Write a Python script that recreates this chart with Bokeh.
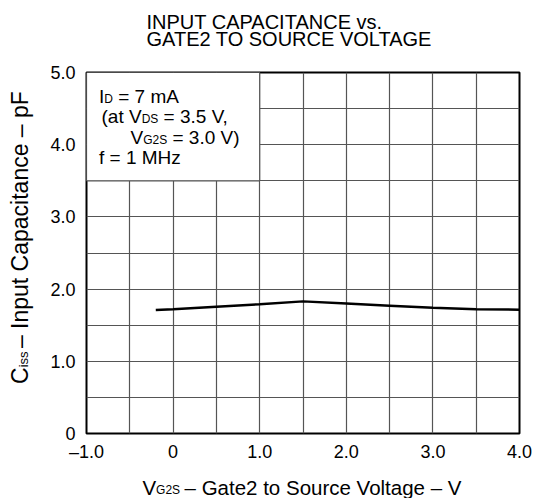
from bokeh.plotting import figure
from bokeh.models import Label, FixedTicker, Range1d
from bokeh.embed import file_html
from bokeh.resources import INLINE
import math

# ---- data ----
vg2s = [-0.2, 0.0, 0.5, 1.0, 1.5, 2.0, 2.5, 3.0, 3.5, 4.0]
ciss = [1.71, 1.72, 1.755, 1.79, 1.83, 1.80, 1.77, 1.74, 1.72, 1.715]

x_ticks = [-1, 0, 1, 2, 3, 4]
x_tick_labels = ["–1.0", "0", "1.0", "2.0", "3.0", "4.0"]
y_ticks = [0, 1, 2, 3, 4, 5]
y_tick_labels = ["0", "1.0", "2.0", "3.0", "4.0", "5.0"]
grid_x = [-0.5, 0.0, 0.5, 1.0, 1.5, 2.0, 2.5, 3.0, 3.5]
grid_y = [0.5, 1.0, 1.5, 2.0, 2.5, 3.0, 3.5, 4.0, 4.5]

box_left, box_right, box_bottom, box_top = [-1.0], [1.0], [3.5], [5.0]

title_lines = ["INPUT CAPACITANCE vs.", "GATE2 TO SOURCE VOLTAGE"]

# ---- layout ----
X0, X1, Y0, Y1 = -1.0, 4.0, 0.0, 5.0
W, H = 541, 498
BL, BR, BT, BB = 86, 22, 72, 65
FONT = "Liberation Sans"
GRID = "#555555"
MID = 0.35          # em-box middle above the baseline
NBSP = "\u00a0"

CW = {' ': 278, NBSP: 278, '(': 333, ')': 333, ',': 278, '.': 278, '=': 584,
      '–': 556, 'a': 556, 'c': 500, 'e': 556, 'f': 278, 'g': 556, 'i': 222,
      'l': 222, 'm': 833, 'n': 556, 'o': 556, 'p': 556, 'r': 333, 's': 500,
      't': 278, 'u': 556, 'z': 500, 'A': 667, 'C': 722, 'D': 722, 'F': 611,
      'G': 778, 'H': 722, 'I': 278, 'M': 833, 'S': 667, 'V': 667}

def tw(text, size):
    return sum(CW.get(ch, 556) for ch in text) * size / 1000.0

p = figure(width=W, height=H, output_backend="svg", toolbar_location=None,
           x_range=Range1d(X0, X1), y_range=Range1d(Y0, Y1))
p.min_border_left = BL
p.min_border_right = BR
p.min_border_top = BT
p.min_border_bottom = BB
p.background_fill_color = "white"
p.border_fill_color = "white"
p.outline_line_color = "black"
p.outline_line_width = 2

p.xgrid.ticker = FixedTicker(ticks=grid_x)
p.ygrid.ticker = FixedTicker(ticks=grid_y)
for g in (p.xgrid, p.ygrid):
    g.grid_line_color = GRID
    g.grid_line_width = 1.2

p.xaxis.ticker = FixedTicker(ticks=x_ticks)
p.yaxis.ticker = FixedTicker(ticks=y_ticks)
p.xaxis.major_label_overrides = dict(zip(x_ticks, x_tick_labels))
p.yaxis.major_label_overrides = dict(zip(y_ticks, y_tick_labels))
for ax in (p.xaxis, p.yaxis):
    ax.axis_line_color = None
    ax.major_tick_line_color = None
    ax.minor_tick_line_color = None
    ax.major_label_text_font = FONT
    ax.major_label_text_font_size = "18px"
    ax.major_label_text_color = "black"
p.xaxis.major_label_standoff = 2
p.yaxis.major_label_standoff = 5

# white conditions box over the grid
p.quad(left=box_left, right=box_right, bottom=box_bottom, top=box_top,
       fill_color="white", line_color=GRID, line_width=1.2)

# data curve
p.line(vg2s, ciss, line_color="black", line_width=2.5)

def put(text, px, base, size, where=None, angle=0.0):
    """text with its baseline at canvas y=base (or canvas x=base if rotated)"""
    if angle == 0.0:
        x, y = px, base - MID * size
    else:
        x, y = base - MID * size, px
    lab = Label(x=x, y=y, x_units="canvas", y_units="canvas",
                text=text, text_font=FONT,
                text_font_size=f"{size}px", text_color="black",
                text_align="left", text_baseline="middle", angle=angle)
    if where is None:
        p.add_layout(lab)
    else:
        p.add_layout(lab, where)

def put_pieces(pieces, px, base):
    cur = px
    for text, size in pieces:
        stripped = text.lstrip(" ")
        cur += tw(text[:len(text) - len(stripped)], size)
        put(stripped, cur, base, size)
        cur += tw(stripped, size)

def gap(sub, sub_size, size):
    return NBSP * max(1, round(tw(sub, sub_size) / tw(NBSP, size)))

# title
TS = 20
put(title_lines[0], 146, 28.3, TS, "above")
put(title_lines[1], 146, 45, TS, "above")

# conditions box (inside the frame)
LS, SS = 19, 12
put_pieces([("I", LS), ("D", SS), (" = 7 mA", LS)], 98.5, 102.7)
put_pieces([("(at V", LS), ("DS", SS), (" = 3.5 V,", LS)], 101, 122.7)
put_pieces([("V", LS), ("G2S", SS), (" = 3.0 V)", LS)], 130, 143.3)
put_pieces([("f = 1 MHz", LS)], 98.5, 163.3)

# x axis label
XS, XSS = 20.5, 12
x_main = "V" + gap("G2S", XSS, XS) + " – Gate2 to Source Voltage – V"
x_start = 302 - tw(x_main, XS) / 2
put(x_main, x_start, 494, XS, "below")
put("G2S", x_start + tw("V", XS), 494, XSS, "above")

# y axis label (rotated, reads bottom to top)
YS, YSS = 23, 13
y_main = "C" + gap("iss", YSS, YS) + " – Input Capacitance – pF"
y_start = 237 + tw(y_main, YS) / 2
put(y_main, y_start, 28, YS, "left", angle=math.pi / 2)
put("iss", y_start - tw("C", YS), 28, YSS, "right", angle=math.pi / 2)

open("out.html", "w").write(file_html(p, INLINE))
